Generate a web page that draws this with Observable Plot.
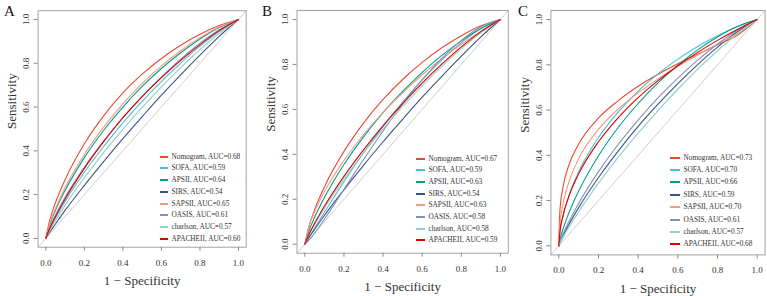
<!DOCTYPE html>
<html><head><meta charset="utf-8">
<script src="https://cdn.jsdelivr.net/npm/d3@7"></script>
<script src="https://cdn.jsdelivr.net/npm/@observablehq/plot@0.6"></script>
<style>
body{margin:0;background:#fff;}
#root{position:relative;width:767px;height:296px;overflow:hidden;font-family:"Liberation Serif","Times New Roman",serif;}
.panel{position:absolute;top:0;}
.letter{position:absolute;font-size:15px;color:#111;line-height:1;}
.lg{position:absolute;font-size:7.3px;color:#333;white-space:nowrap;line-height:1;}
.sw{position:absolute;height:2px;}
</style></head><body><div id="root"></div>
<script>
const models = ["Nomogram","SOFA","APSII","SIRS","SAPSII","OASIS","charlson","APACHEII"];
const colors = ["#E64B35","#4DBBD5","#00A087","#3C5488","#F39B7F","#8491B4","#91D1C2","#DC0000"];
const tickValues = [0,0.2,0.4,0.6,0.8,1.0];
const axisDomain = [-0.04,1.04];

const aucA = [0.68,0.59,0.64,0.54,0.65,0.61,0.57,0.60];
const aucB = [0.67,0.59,0.63,0.54,0.63,0.58,0.58,0.59];
const aucC = [0.73,0.70,0.66,0.59,0.70,0.61,0.57,0.68];

const fprAB = [0,0.02,0.05,0.1,0.2,0.3,0.4,0.5,0.6,0.7,0.8,0.9,1];
const fprC  = [0,0.005,0.02,0.05,0.1,0.2,0.3,0.4,0.5,0.6,0.7,0.8,0.9,1];

// Panel A sensitivities
const nomoA     = [0,.082,.163,.268,.432,.560,.665,.750,.822,.882,.932,.972,1];
const sofaA     = [0,.042,.093,.169,.302,.420,.528,.626,.717,.801,.878,.946,1];
const apsiiA    = [0,.061,.128,.219,.369,.493,.600,.694,.776,.848,.911,.963,1];
const sirsA     = [0,.028,.066,.128,.242,.351,.456,.556,.654,.747,.837,.923,1];
const sapsiiA   = [0,.066,.136,.231,.383,.508,.615,.707,.788,.857,.917,.966,1];
const oasisA    = [0,.049,.106,.188,.325,.444,.550,.648,.737,.819,.892,.953,1];
const charlsonA = [0,.036,.081,.151,.277,.392,.498,.598,.692,.780,.862,.937,1];
const apacheA   = [0,.045,.099,.180,.320,.442,.552,.648,.734,.813,.885,.949,1];

// Panel B sensitivities
const nomoB     = [0,.076,.153,.255,.413,.539,.644,.733,.809,.874,.928,.972,1];
const sofaB     = [0,.028,.071,.142,.278,.406,.524,.632,.731,.820,.897,.960,1];
const apsiiB    = [0,.057,.120,.208,.355,.478,.586,.680,.765,.840,.905,.960,1];
const sirsB     = [0,.028,.066,.128,.242,.351,.456,.556,.654,.747,.837,.923,1];
const sapsiiB   = [0,.076,.144,.233,.373,.487,.587,.674,.754,.826,.890,.948,1];
const oasisB    = [0,.016,.049,.111,.244,.377,.504,.624,.732,.827,.907,.968,1];
const charlsonB = [0,.039,.087,.160,.289,.406,.513,.613,.705,.791,.870,.941,1];
const apacheB   = [0,.042,.093,.169,.302,.420,.528,.626,.717,.801,.878,.946,1];

// Panel C sensitivities
const nomoC     = [0,.150,.255,.355,.450,.565,.642,.705,.758,.805,.847,.889,.931,1];
const sofaC     = [0,.054,.127,.219,.327,.479,.592,.684,.760,.825,.881,.928,.969,1];
const apsiiC    = [0,.023,.071,.144,.242,.398,.524,.629,.720,.798,.866,.923,.969,1];
const sirsC     = [0,.012,.042,.093,.169,.302,.420,.528,.626,.717,.801,.878,.946,1];
const sapsiiC   = [0,.090,.180,.280,.385,.515,.605,.676,.738,.793,.843,.890,.938,1];
const oasisC    = [0,.015,.049,.106,.188,.328,.449,.556,.654,.741,.821,.892,.953,1];
const charlsonC = [0,.010,.036,.081,.151,.277,.392,.498,.598,.692,.780,.862,.937,1];
const apacheC   = [0,.058,.129,.217,.318,.460,.567,.655,.730,.796,.855,.908,.956,1];

const fmt = d3.format(".1f");
const root = document.getElementById("root");

const panels = [
  {letter:"A", fpr:fprAB, sens:[nomoA,sofaA,apsiiA,sirsA,sapsiiA,oasisA,charlsonA,apacheA], auc:aucA,
   left:0, width:250, ml:37.6, mr:4.3, mt:10.2, mb:49.3, lx:4, ly:4, legX:160, legY:156.5, legStep:11.75, legLine:8},
  {letter:"B", fpr:fprAB, sens:[nomoB,sofaB,apsiiB,sirsB,sapsiiB,oasisB,charlsonB,apacheB], auc:aucB,
   left:255, width:255, ml:41.5, mr:2.2, mt:10, mb:43.3, lx:262, ly:4, legX:416, legY:158.5, legStep:11.7, legLine:9},
  {letter:"C", fpr:fprC, sens:[nomoC,sofaC,apsiiC,sirsC,sapsiiC,oasisC,charlsonC,apacheC], auc:aucC,
   left:510, width:257, ml:40.4, mr:2.4, mt:10, mb:41.6, lx:518, ly:4, legX:670, legY:157.5, legStep:12.4, legLine:10}
];

for (const p of panels) {
  const rows = models.flatMap((m,i) => p.fpr.map((x,j) => ({model:m, x, y:p.sens[i][j]})));
  const chart = Plot.plot({
    width:p.width, height:296,
    marginLeft:p.ml, marginRight:p.mr, marginTop:p.mt, marginBottom:p.mb,
    x:{domain:axisDomain}, y:{domain:axisDomain},
    color:{domain:models, range:colors},
    style:{fontFamily:"Liberation Serif", background:"transparent", color:"#333"},
    marks:[
      Plot.link([axisDomain], {x1:d=>d[0], y1:d=>d[0], x2:d=>d[1], y2:d=>d[1], stroke:"#cfcfcf", strokeWidth:1}),
      Plot.line(rows, {x:"x", y:"y", z:"model", stroke:"model", strokeWidth:1.1, curve:"monotone-x"}),
      Plot.frame({stroke:"#a3a3a3"}),
      Plot.axisX({ticks:tickValues, tickFormat:fmt, tickSize:4, tickPadding:8, fontSize:9, label:null, stroke:"#888"}),
      Plot.axisY({ticks:tickValues, tickFormat:()=>"", tickSize:4, label:null, stroke:"#888"}),
      Plot.text(tickValues, {y:d=>d, frameAnchor:"left", text:fmt, rotate:-90, dx:-11.5, fontSize:9, textAnchor:"middle", lineAnchor:"middle"}),
      Plot.text(["1 \u2212 Specificity"], {frameAnchor:"bottom", dy:33.5, fontSize:13, lineAnchor:"middle"}),
      Plot.text(["Sensitivity"], {frameAnchor:"left", rotate:-90, dx:-26, fontSize:13, lineAnchor:"middle"})
    ]
  });
  const wrap = document.createElement("div");
  wrap.className = "panel";
  wrap.style.left = p.left + "px";
  wrap.appendChild(chart);
  root.appendChild(wrap);

  const L = document.createElement("div");
  L.className = "letter";
  L.style.left = p.lx + "px"; L.style.top = p.ly + "px";
  L.textContent = p.letter;
  root.appendChild(L);

  models.forEach((m,i) => {
    const cy = Math.round(p.legY + i*p.legStep);
    const sw = document.createElement("div");
    sw.className = "sw";
    sw.style.left = p.legX + "px"; sw.style.width = p.legLine + "px";
    sw.style.top = (cy - 1) + "px"; sw.style.background = colors[i];
    root.appendChild(sw);
    const t = document.createElement("div");
    t.className = "lg";
    t.style.left = (p.legX + p.legLine + 3.5) + "px";
    t.style.top = (cy - 3.8) + "px";
    t.textContent = `${m}, AUC=${p.auc[i].toFixed(2)}`;
    root.appendChild(t);
  });
}
</script></body></html>
